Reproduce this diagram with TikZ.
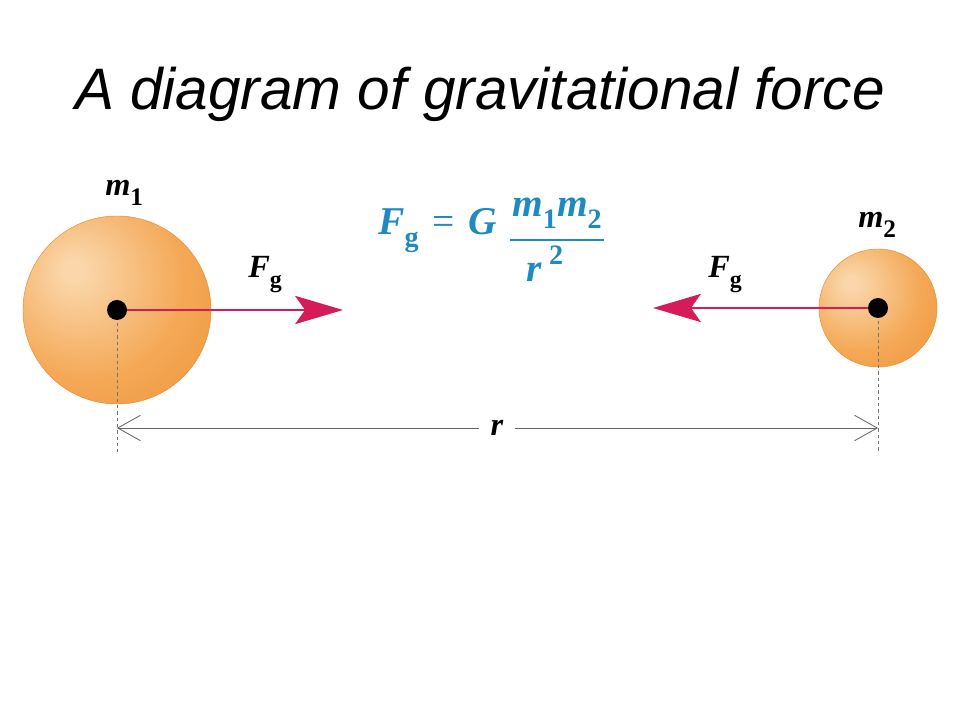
\documentclass[tikz,border=0pt]{standalone}
\usepackage{fontspec}
\setmainfont{Liberation Serif}
\newfontfamily\titlefont{Liberation Sans}
\usetikzlibrary{arrows.meta}
\definecolor{sphhi}{RGB}{250,214,170}
\definecolor{sphmid}{RGB}{244,168,86}
\definecolor{sphlow}{RGB}{234,134,36}
\definecolor{forcered}{RGB}{214,28,88}
\definecolor{lawblue}{RGB}{30,138,192}
\pgfdeclareradialshading{sphereshade}{\pgfpoint{-12bp}{11bp}}{color(0bp)=(sphhi); color(3bp)=(sphhi); color(26bp)=(sphmid); color(58bp)=(sphlow); color(80bp)=(sphlow)}
\newcommand{\sym}[3][18]{\textbf{\textit{#2}}\raisebox{-0.3em}{\fontsize{#1}{#1}\selectfont\textbf{#3}}}

\begin{document}
\begin{tikzpicture}[x=0.025cm, y=-0.025cm,
    ball/.style={circle, shading=sphereshade, draw=sphlow, line width=0.3pt, inner sep=0pt},
    ctr/.style={circle, fill=black, minimum size=0.5cm, inner sep=0pt},
    force/.style={forcered, line width=2pt, -{Stealth[length=34pt, width=20pt, inset=7pt]}},
    guide/.style={black!55, line width=0.6pt, dash pattern=on 2.5pt off 2pt},
    dimline/.style={black!60, line width=0.6pt, -{Straight Barb[length=16pt, width=18pt]}},
    lbl/.style={font=\fontsize{23}{27}\selectfont, inner sep=0pt},
    law/.style={font=\fontsize{28}{32}\selectfont, inner sep=0pt, text=lawblue}]
    \useasboundingbox (0,0) rectangle (960,720);
    \node[font=\titlefont\itshape\fontsize{41.6}{48}\selectfont, anchor=base] (heading) at (480,110) {A diagram of gravitational force};

    % the two masses
    \node[ball, minimum size=4.7cm] (ball1) at (117,310) {};
    \node[ball, minimum size=2.95cm] (ball2) at (878,308) {};
    \coordinate (foot1) at (117,452);
    \coordinate (foot2) at (878,452);
    \draw[guide] (ball1.center) -- (foot1);
    \draw[guide] (ball2.center) -- (foot2);

    \coordinate (tip1) at (343,310);
    \coordinate (tip2) at (653,308);
    \draw[force] (ball1.center) -- (tip1);
    \draw[force] (ball2.center) -- (tip2);
    \node[ctr] (c1) at (ball1.center) {};
    \node[ctr] (c2) at (ball2.center) {};

    \node[lbl, anchor=base west] (m1) at (105,196) {\sym{m}{1}};
    \node[lbl, anchor=base west] (m2) at (858,228) {\sym{m}{2}};
    \node[lbl, anchor=base west] (fg1) at (248,278) {\sym[17]{F}{g}};
    \node[lbl, anchor=base west] (fg2) at (708,278) {\sym[17]{F}{g}};

    % distance
    \coordinate (dl) at (117,428);
    \coordinate (dr) at (878,428);
    \node[lbl, inner xsep=8pt] (rlab) at (497,428) {\textbf{\textit{r}}};
    \draw[dimline] (rlab) -- (dl);
    \draw[dimline] (rlab) -- (dr);

    % the law
    \node[law, anchor=base west] (lawlhs) at (378,235) {\sym[20]{F}{g}\hspace{0.35em}=\hspace{0.35em}\textbf{\textit{G}}};
    \node[law, anchor=base] (lawnum) at (557,217) {\sym[20]{m}{1}\sym[20]{m}{2}};
    \node[law, anchor=base] (lawden) at (545,282) {\textbf{\textit{r}}\,\raisebox{0.45em}{\fontsize{20}{20}\selectfont\textbf{2}}};
    \coordinate (barl) at (510,240);
    \coordinate (barr) at (604,240);
    \draw[lawblue, line width=0.8pt] (barl) -- (barr);
\end{tikzpicture}
\end{document}
